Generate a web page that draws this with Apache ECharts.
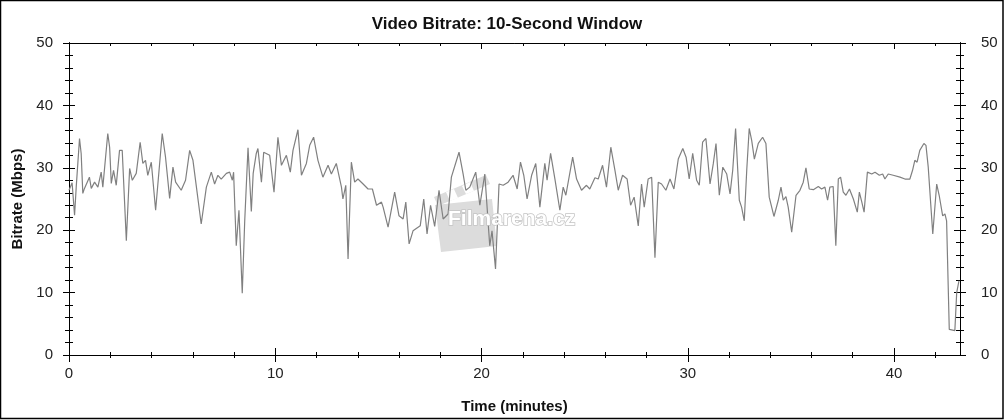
<!DOCTYPE html>
<html>
<head>
<meta charset="utf-8">
<script src="https://cdn.jsdelivr.net/npm/echarts@6/dist/echarts.min.js"></script>
<style>
html,body{margin:0;padding:0;background:#fff;}
#chart{width:1004px;height:420px;}
</style>
</head>
<body>
<div id="chart"></div>
<script>
// ---- data (minutes, Mbps) ----
const times = [0.00,0.15,0.27,0.35,0.51,0.59,0.67,0.75,0.99,1.08,1.24,1.40,1.56,1.64,1.88,1.97,2.05,2.16,2.29,2.45,2.58,2.78,2.94,3.07,3.26,3.45,3.58,3.71,3.82,3.99,4.20,4.26,4.52,4.68,4.88,5.04,5.17,5.44,5.65,5.85,6.01,6.41,6.66,6.90,7.06,7.22,7.38,7.63,7.79,7.92,7.98,8.11,8.24,8.40,8.52,8.68,8.84,8.93,9.08,9.16,9.33,9.44,9.73,9.94,10.13,10.30,10.54,10.73,10.86,11.10,11.27,11.51,11.67,11.86,12.07,12.31,12.56,12.72,12.96,13.21,13.28,13.42,13.53,13.69,13.85,14.01,14.26,14.50,14.71,14.91,15.15,15.23,15.47,15.79,16.00,16.20,16.33,16.49,16.68,17.03,17.20,17.36,17.53,17.73,17.94,18.14,18.38,18.54,18.91,19.11,19.24,19.43,19.72,19.92,20.16,20.40,20.51,20.68,20.85,21.05,21.29,21.53,21.73,21.89,22.05,22.21,22.43,22.63,22.83,23.07,23.18,23.35,23.56,23.80,23.96,24.09,24.42,24.61,24.85,25.09,25.25,25.50,25.66,25.87,26.06,26.27,26.47,26.63,26.84,27.06,27.23,27.40,27.60,27.76,27.89,28.08,28.25,28.41,28.57,28.73,28.94,29.14,29.33,29.54,29.76,29.92,30.07,30.24,30.43,30.56,30.72,30.88,31.08,31.24,31.37,31.53,31.70,31.89,32.05,32.18,32.32,32.50,32.61,32.74,32.86,32.98,33.10,33.23,33.42,33.63,33.79,33.95,34.18,34.39,34.52,34.63,34.76,34.87,35.04,35.25,35.44,35.60,35.73,35.89,36.09,36.33,36.49,36.65,36.78,36.89,37.05,37.18,37.30,37.41,37.54,37.67,37.84,38.03,38.22,38.32,38.44,38.55,38.71,38.92,39.08,39.29,39.45,39.56,39.72,39.96,40.29,40.53,40.77,40.90,41.01,41.12,41.25,41.45,41.55,41.66,41.88,42.07,42.19,42.36,42.47,42.55,42.68,42.95,43.04,43.15];
const bitrate = [26.4,27.6,22.4,26.9,34.7,32.3,25.9,26.7,28.5,26.7,27.7,26.9,29.3,26.9,35.5,33.3,27.5,29.6,27.2,32.8,32.8,18.3,29.9,28.0,29.1,34.1,30.7,31.2,28.8,30.9,23.2,22.9,35.5,31.7,25.1,30.1,27.7,26.4,28.0,32.8,31.2,21.0,26.9,29.3,27.4,28.8,28.2,29.1,29.3,28.0,29.3,17.5,23.2,9.9,21.5,33.2,23.0,29.1,32.3,33.1,27.7,32.5,32.0,26.1,34.9,30.4,32.0,29.3,32.8,36.1,28.8,30.7,33.6,34.9,31.2,28.5,30.4,29.0,30.7,26.9,25.0,27.2,15.4,30.9,27.7,28.2,27.4,26.6,26.6,24.0,24.5,23.7,20.5,26.1,22.3,21.8,24.5,17.8,19.9,20.7,25.0,19.4,24.0,20.6,26.4,21.8,22.6,28.5,32.5,29.0,26.4,26.9,29.3,24.0,29.0,17.5,19.9,13.8,27.4,27.2,27.7,28.8,26.6,30.9,28.8,25.0,28.8,30.7,23.7,30.7,28.0,32.3,28.2,23.2,26.9,25.6,31.7,28.2,26.4,27.2,26.6,28.4,28.2,30.4,26.9,33.3,29.6,26.4,28.8,28.2,24.0,25.3,20.7,27.4,23.7,28.2,28.5,15.6,27.7,27.4,26.4,28.2,26.6,31.4,33.1,31.7,28.2,32.3,28.0,27.2,34.1,34.7,27.4,30.7,33.9,25.6,30.1,29.0,25.8,29.6,36.3,24.8,23.7,21.5,29.6,36.3,34.4,31.4,33.9,34.9,33.9,25.3,22.2,24.8,26.9,24.8,25.4,23.7,19.7,25.6,26.4,27.7,30.0,26.6,26.5,27.0,26.6,26.9,24.8,26.9,27.0,17.5,28.2,28.5,26.1,25.6,26.6,25.0,22.9,26.1,24.5,22.9,29.3,29.0,29.3,28.8,29.0,28.2,29.0,28.8,28.5,28.2,28.2,29.6,31.2,30.9,32.8,33.9,33.6,30.1,19.4,27.4,25.6,22.3,22.6,21.5,4.1,3.9,10.0,11.9];

const xMajor = [0,10,20,30,40];
const xMinor = [2,4,6,8,12,14,16,18,22,24,26,28,32,34,36,38,42];
const yMajor = [0,10,20,30,40,50];
const yMinor = [2,4,6,8,12,14,16,18,22,24,26,28,32,34,36,38,42,44,46,48];
const X_MAX = 43.2, Y_MAX = 50;

const chart = echarts.init(document.getElementById('chart'), null, {renderer:'canvas'});
const FONT = 'Arial, "Liberation Sans", sans-serif';

function axis(dim, pos, vals, len, inside, label) {
  const a = {
    type:'value', position:pos, min:0, max: dim==='x'?X_MAX:Y_MAX,
    interval: 10,
    axisLine:{show:true, onZero:false, lineStyle:{color:'#000', width:1}},
    axisTick:{show:true, customValues: vals, length: len, inside: inside, lineStyle:{color:'#000', width:1}},
    splitLine:{show:false},
    axisLabel:{show:false}
  };
  if (label) {
    a.axisLabel = Object.assign({show:true, customValues: dim==='x'?xMajor:yMajor, color:'#222', fontSize:15, fontFamily:FONT}, label);
  }
  return a;
}

const xAxes = [
  axis('x','bottom',xMajor,7,false,{margin:11}),
  axis('x','bottom',xMajor,7,true),
  axis('x','bottom',xMinor,3,false),
  axis('x','bottom',xMinor,3,true),
  axis('x','top',xMajor,6,true),
  axis('x','top',xMinor,3,true)
];
xAxes[0].name = 'Time (minutes)';
xAxes[0].nameLocation = 'middle';
xAxes[0].nameGap = 44;
xAxes[0].nameTextStyle = {fontSize:15, fontWeight:'bold', color:'#111', fontFamily:FONT};

const yAxes = [
  axis('y','left',yMajor,6,false,{margin:16}),
  axis('y','left',yMajor,6,true),
  axis('y','left',yMinor,4,false),
  axis('y','left',yMinor,4,true),
  axis('y','right',yMajor,6,false,{margin:21}),
  axis('y','right',yMajor,6,true),
  axis('y','right',yMinor,4,false),
  axis('y','right',yMinor,4,true)
];
yAxes[0].name = 'Bitrate (Mbps)';
yAxes[0].nameLocation = 'middle';
yAxes[0].nameGap = 42;
yAxes[0].nameRotate = 90;
yAxes[0].nameTextStyle = {fontSize:15, fontWeight:'bold', color:'#111', fontFamily:FONT};

const points = times.map((t,i)=>[t, bitrate[i]]);

chart.setOption({
  animation:false,
  backgroundColor:'#fff',
  title:{
    text:'Video Bitrate: 10-Second Window',
    left:502, top:11, textAlign:'center',
    textStyle:{fontSize:17, fontWeight:'bold', color:'#111', fontFamily:FONT}
  },
  grid:{left:69, top:43, width:891, height:312, outerBoundsMode:'none', containLabel:false},
  xAxis: xAxes,
  yAxis: yAxes,
  graphic:[
    {type:'polygon', zlevel:0, z:0, shape:{points:[[435,205],[492,199],[497,246],[441,252]]}, style:{fill:'#dcdcdc'}},
    {type:'polygon', zlevel:0, z:0, shape:{points:[[434,197],[486,175],[490,184],[438,206]]}, style:{fill:'#dcdcdc'}},
    {type:'polygon', zlevel:0, z:0, shape:{points:[[446,192],[454,189],[458,198],[450,201]]}, style:{fill:'#fff'}},
    {type:'polygon', zlevel:0, z:0, shape:{points:[[462,186],[470,182],[474,191],[466,194]]}, style:{fill:'#fff'}},
    {type:'text', zlevel:2, x:448, y:209, style:{text:'Filmarena.cz', font:'bold 21px Arial, "Liberation Sans", sans-serif', fill:'#ffffff', stroke:'#c4c4c4', lineWidth:1.5}},
    {type:'rect', zlevel:2, shape:{x:0.5,y:0.5,width:1002.5,height:418}, style:{fill:'none', stroke:'#000', lineWidth:1.5}}
  ],
  series:[{
    type:'line', xAxisIndex:0, yAxisIndex:0, zlevel:1,
    data: points, showSymbol:false, symbol:'none',
    lineStyle:{color:'#808080', width:1.2}
  }]
});
</script>
</body>
</html>
